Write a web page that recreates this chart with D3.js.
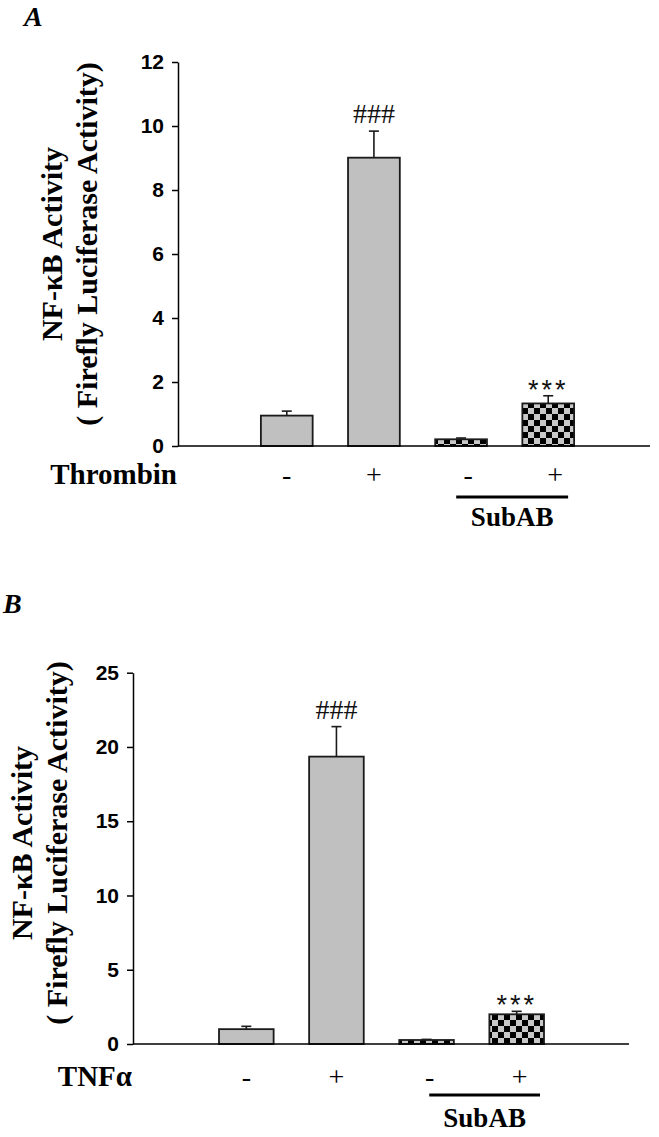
<!DOCTYPE html>
<html>
<head>
<meta charset="utf-8">
<script src="https://cdn.jsdelivr.net/npm/d3@7"></script>
<style>
  body { margin: 0; background: #fff; }
  svg { display: block; }
</style>
</head>
<body>
<script>
// data
const groups = ["ctrl", "stim", "subab", "subab_stim"];
const stimSigns = ["-", "+", "-", "+"];
const withSubAB = [false, false, true, true];

const thrombinMeans = [0.95, 9.01, 0.21, 1.33];
const thrombinErrors = [0.14, 0.83, 0.04, 0.24];
const thrombinMarks = ["", "###", "", "***"];
const thrombinTicks = [0, 2, 4, 6, 8, 10, 12];

const tnfMeans = [1.0, 19.35, 0.27, 2.0];
const tnfErrors = [0.19, 2.02, 0.04, 0.2];
const tnfMarks = ["", "###", "", "***"];
const tnfTicks = [0, 5, 10, 15, 20, 25];

const yTitle1 = "NF-\u03baB Activity";
const yTitle2 = "( Firefly  Luciferase Activity)";

const W = 659, H = 1137;
const svg = d3.select("body").append("svg")
    .attr("width", W)
    .attr("height", H);

const defs = svg.append("defs");
const pat = defs.append("pattern")
    .attr("id", "checker")
    .attr("patternUnits", "userSpaceOnUse")
    .attr("width", 12)
    .attr("height", 12);
pat.append("rect").attr("width", 12).attr("height", 12).attr("fill", "#000");
pat.append("rect").attr("x", 0).attr("y", 0).attr("width", 6).attr("height", 6).attr("fill", "#c8c8c8");
pat.append("rect").attr("x", 6).attr("y", 6).attr("width", 6).attr("height", 6).attr("fill", "#c8c8c8");

const serif = "'Liberation Serif', 'Times New Roman', serif";
const sans = "'Liberation Sans', Arial, sans-serif";

function drawPanel(p)
{
    let g = svg.append("g");

    let y = d3.scaleLinear()
        .domain([0, d3.max(p.ticks)])
        .range([p.bottom, p.top]);

    let x = d3.scaleBand()
        .domain(groups)
        .range(p.band)
        .padding(p.pad);

    // panel letter
    g.append("text")
        .attr("x", p.letterX).attr("y", p.letterY)
        .attr("font-family", serif)
        .attr("font-weight", "bold")
        .attr("font-style", "italic")
        .attr("font-size", 28)
        .text(p.letter);

    // y axis
    let yAxis = d3.axisLeft(y)
        .tickValues(p.ticks)
        .tickSize(6)
        .tickSizeOuter(0)
        .tickPadding(8);
    let ax = g.append("g")
        .attr("transform", `translate(${p.axisX},0)`)
        .call(yAxis);
    ax.select(".domain").attr("stroke", "#000").attr("stroke-width", 1.5);
    ax.selectAll(".tick line").attr("stroke", "#000").attr("stroke-width", 1.5);
    ax.selectAll(".tick text")
        .attr("font-family", sans)
        .attr("font-weight", "bold")
        .attr("font-size", 21)
        .attr("fill", "#000");

    // y titles
    [yTitle1, yTitle2].forEach(function(t, i) {
        g.append("text")
            .attr("transform", `translate(${p.titleX[i]},${p.titleY}) rotate(-90)`)
            .attr("text-anchor", "middle")
            .attr("font-family", serif)
            .attr("font-weight", "bold")
            .attr("font-size", 30)
            .text(t);
    });

    // bars
    g.append("g").selectAll("rect")
        .data(p.means)
        .enter()
        .append("rect")
            .attr("x", (d, i) => x(groups[i]))
            .attr("y", d => y(d))
            .attr("width", x.bandwidth())
            .attr("height", d => y(0) - y(d))
            .attr("fill", (d, i) => withSubAB[i] ? "url(#checker)" : "#c0c0c0")
            .attr("stroke", "#1a1a1a")
            .attr("stroke-width", 1.8);

    // error bars (upper only)
    let eb = g.append("g").selectAll("g")
        .data(p.means)
        .enter()
        .append("g");
    eb.append("line")
        .attr("x1", (d, i) => x(groups[i]) + x.bandwidth() / 2)
        .attr("x2", (d, i) => x(groups[i]) + x.bandwidth() / 2)
        .attr("y1", d => y(d))
        .attr("y2", (d, i) => y(d + p.errors[i]))
        .attr("stroke", "#1a1a1a")
        .attr("stroke-width", 1.6);
    eb.append("line")
        .attr("x1", (d, i) => x(groups[i]) + x.bandwidth() / 2 - 5)
        .attr("x2", (d, i) => x(groups[i]) + x.bandwidth() / 2 + 5)
        .attr("y1", (d, i) => y(d + p.errors[i]))
        .attr("y2", (d, i) => y(d + p.errors[i]))
        .attr("stroke", "#1a1a1a")
        .attr("stroke-width", 1.6);

    // significance marks
    g.append("g").selectAll("text")
        .data(p.marks)
        .enter()
        .append("text")
            .attr("x", (d, i) => x(groups[i]) + x.bandwidth() / 2)
            .attr("y", (d, i) => d === "###" ? y(p.means[i] + p.errors[i]) - 8 : y(p.means[i] + p.errors[i]) + 3)
            .attr("text-anchor", "middle")
            .attr("font-family", d => d === "###" ? serif : sans)
            .attr("font-size", d => d === "###" ? 28 : 27)
            .attr("letter-spacing", d => d === "###" ? 0 : 3)
            .attr("fill", "#111")
            .text(d => d);

    // x baseline
    g.append("line")
        .attr("x1", p.axisX).attr("x2", p.xEnd)
        .attr("y1", y(0)).attr("y2", y(0))
        .attr("stroke", "#000")
        .attr("stroke-width", 1.5);

    // treatment row
    g.append("text")
        .attr("x", p.axisX - 1).attr("y", y(0) + p.rowDy)
        .attr("text-anchor", "end")
        .attr("font-family", serif)
        .attr("font-weight", "bold")
        .attr("font-size", 29)
        .text(p.stimName);

    g.append("g").selectAll("text")
        .data(stimSigns)
        .enter()
        .append("text")
            .attr("x", (d, i) => x(groups[i]) + x.bandwidth() / 2 + (withSubAB[i] ? p.signShift : 0))
            .attr("y", y(0) + p.rowDy)
            .attr("text-anchor", "middle")
            .attr("font-family", serif)
            .attr("font-size", 28)
            .text(d => d);

    // SubAB bracket
    let subIdx = withSubAB.map((s, i) => s ? i : -1).filter(i => i >= 0);
    let sx0 = x(groups[subIdx[0]]) + p.lineStart;
    let sx1 = x(groups[subIdx[subIdx.length - 1]]) + x.bandwidth() + p.lineEnd;
    g.append("line")
        .attr("x1", sx0).attr("x2", sx1)
        .attr("y1", y(0) + 51).attr("y2", y(0) + 51)
        .attr("stroke", "#000")
        .attr("stroke-width", 3);
    g.append("text")
        .attr("x", (sx0 + sx1) / 2).attr("y", y(0) + p.subDy)
        .attr("text-anchor", "middle")
        .attr("font-family", serif)
        .attr("font-weight", "bold")
        .attr("font-size", 27)
        .text("SubAB");
}

drawPanel({
    letter: "A", letterX: 24, letterY: 26,
    means: thrombinMeans, errors: thrombinErrors, marks: thrombinMarks, ticks: thrombinTicks,
    axisX: 178, top: 62, bottom: 446, xEnd: 650,
    band: [225.5, 609.5], pad: 0.406,
    titleX: [62, 97], titleY: 244,
    stimName: "Thrombin", rowDy: 38, subDy: 80, signShift: 7,
    lineStart: 21, lineEnd: -6
});

drawPanel({
    letter: "B", letterX: 3, letterY: 613,
    means: tnfMeans, errors: tnfErrors, marks: tnfMarks, ticks: tnfTicks,
    axisX: 133, top: 672.7, bottom: 1044, xEnd: 629,
    band: [183.5, 579.5], pad: 0.394,
    titleX: [32, 67], titleY: 843,
    stimName: "TNF\u03b1", rowDy: 42, subDy: 83, signShift: 3,
    lineStart: 30, lineEnd: -4
});
</script>
</body>
</html>
